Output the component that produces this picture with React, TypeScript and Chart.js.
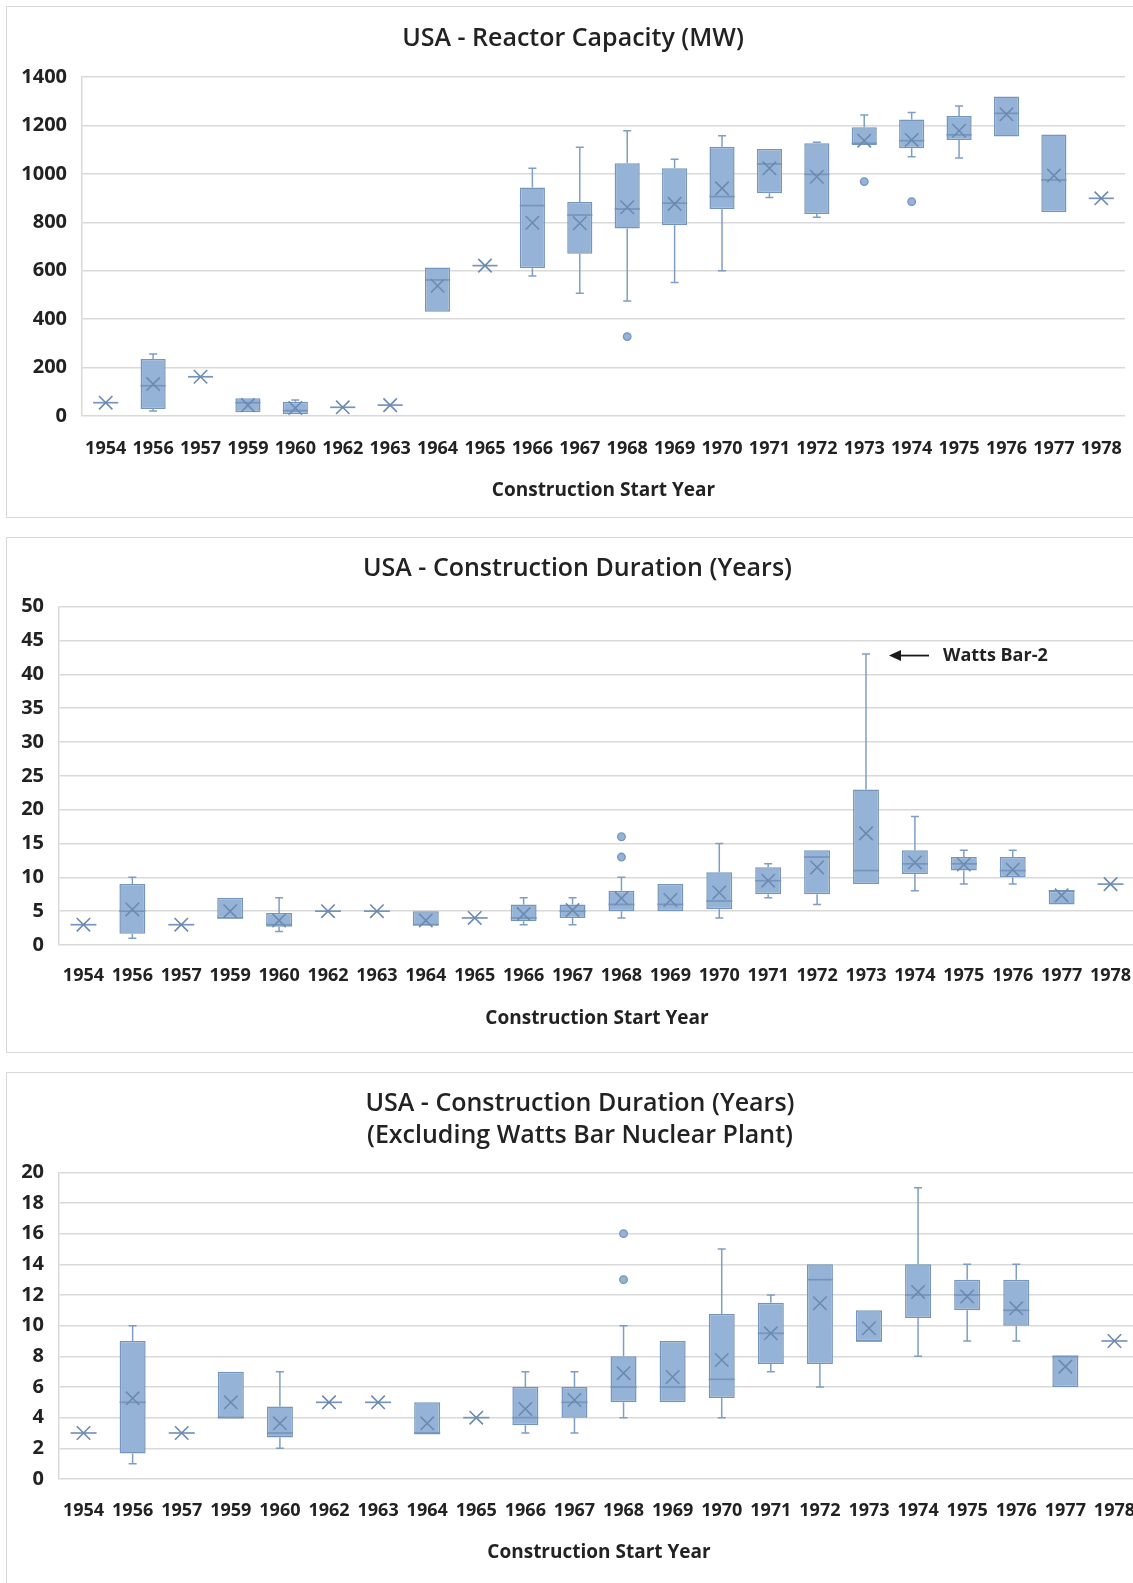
import React, { useEffect, useRef } from 'react';
import { Chart, registerables } from 'chart.js';

Chart.register(...registerables);

// ---------- DATA ----------
const years = ['1954', '1956', '1957', '1959', '1960', '1962', '1963', '1964', '1965', '1966', '1967', '1968', '1969', '1970', '1971', '1972', '1973', '1974', '1975', '1976', '1977', '1978'];

// Panel 1: Reactor capacity (MW)
const capMin = [55, 21, 162, 15, 7, 36, 45, 431, 621, 578, 507, 475, 551, 600, 902, 821, 1119, 1071, 1066, 1154, 841, 899];
const capQ1 = [55, 29, 162, 15, 7, 36, 45, 431, 621, 610, 670, 774, 788, 854, 920, 834, 1119, 1106, 1140, 1154, 841, 899];
const capMedian = [55, 125, 162, 55, 22, 36, 45, 562, 621, 869, 830, 855, 879, 906, 1041, 998, 1126, 1137, 1161, 1250, 975, 899];
const capQ3 = [55, 235, 162, 73, 59, 36, 45, 613, 621, 944, 884, 1044, 1023, 1112, 1103, 1126, 1192, 1225, 1239, 1319, 1163, 899];
const capMax = [55, 256, 162, 73, 66, 36, 45, 613, 621, 1023, 1110, 1178, 1060, 1157, 1103, 1131, 1243, 1253, 1280, 1319, 1163, 899];
const capMean = [55, 132, 162, 45, 33, 36, 45, 538, 621, 798, 796, 862, 876, 940, 1023, 988, 1137, 1140, 1178, 1246, 993, 899];
const capOutlierYears = ['1968', '1973', '1974'];
const capOutlierValues = [328, 968, 885];
const capTicks = [0, 200, 400, 600, 800, 1000, 1200, 1400];

// Panel 2: Construction duration (years)
const durMin = [3, 1, 3, 4, 2, 5, 5, 2.9, 4, 3, 3, 4, 5, 4, 7, 6, 9, 8, 9, 9, 6, 9];
const durQ1 = [3, 1.67, 3, 4, 2.7, 5, 5, 2.9, 4, 3.5, 4, 5, 5, 5.28, 7.5, 7.5, 9, 10.5, 11, 10, 6, 9];
const durMedian = [3, 5, 3, 4, 3, 5, 5, 3, 4, 4, 5, 6, 6, 6.5, 9.5, 13, 11, 12, 12, 11, 8, 9];
const durQ3 = [3, 9, 3, 7, 4.72, 5, 5, 5, 4, 6, 6, 8, 9, 10.76, 11.5, 14, 23, 14, 13, 13, 8, 9];
const durMax = [3, 10, 3, 7, 7, 5, 5, 5, 4, 7, 7, 10, 9, 15, 12, 14, 43, 19, 14, 14, 8, 9];
const durMean = [3, 5.26, 3, 5, 3.63, 5, 5, 3.63, 4, 4.57, 5.15, 6.9, 6.65, 7.76, 9.5, 11.46, 16.5, 12.2, 11.9, 11.13, 7.33, 9];
const durOutlierYears = ['1968', '1968'];
const durOutlierValues = [13, 16];
const durTicks = [0, 5, 10, 15, 20, 25, 30, 35, 40, 45, 50];

// Panel 3: Construction duration excluding Watts Bar
const exMin = [3, 1, 3, 4, 2, 5, 5, 2.9, 4, 3, 3, 4, 5, 4, 7, 6, 9, 8, 9, 9, 6, 9];
const exQ1 = [3, 1.67, 3, 4, 2.7, 5, 5, 2.9, 4, 3.5, 4, 5, 5, 5.28, 7.5, 7.5, 9, 10.5, 11, 10, 6, 9];
const exMedian = [3, 5, 3, 4, 3, 5, 5, 3, 4, 4, 5, 6, 6, 6.5, 9.5, 13, 9, 12, 12, 11, 8, 9];
const exQ3 = [3, 9, 3, 7, 4.72, 5, 5, 5, 4, 6, 6, 8, 9, 10.76, 11.5, 14, 11, 14, 13, 13, 8, 9];
const exMax = [3, 10, 3, 7, 7, 5, 5, 5, 4, 7, 7, 10, 9, 15, 12, 14, 11, 19, 14, 14, 8, 9];
const exMean = [3, 5.26, 3, 5, 3.63, 5, 5, 3.63, 4, 4.57, 5.15, 6.9, 6.65, 7.76, 9.5, 11.46, 9.83, 12.2, 11.9, 11.13, 7.33, 9];
const exOutlierYears = ['1968', '1968'];
const exOutlierValues = [13, 16];
const exTicks = [0, 2, 4, 6, 8, 10, 12, 14, 16, 18, 20];

const annotationText = 'Watts Bar-2';
const annotationYear = '1973';
const annotationValue = 43;

// ---------- STYLE ----------
const FONT = "'Open Sans', 'DejaVu Sans', sans-serif";
const BOX_FILL = '#95b3d7';
const BOX_BORDER = '#7695bc';
const WHISKER = '#7f9ec4';
const MEAN = '#6c8ab0';
const GRID = '#d9d9d9';
const TEXT = '#222222';

type Stats = {
  min: number[]; q1: number[]; median: number[]; q3: number[]; max: number[]; mean: number[];
  outYears: string[]; outValues: number[]; ticks: number[];
};

type Layout = {
  left: number; top: number; w: number; h: number;
  padLeft: number; padBottom: number; yWidth: number; xHeight: number;
  title: string | string[]; titleLH: number; titlePadTop: number; titlePadBottom: number;
  xTickOffset: number; xTitlePadBottom: number; annotate?: boolean;
};

function makeBoxPlugin(s: Stats) {
  return {
    id: 'boxExtras',
    beforeDatasetsDraw(chart: any) {
      const meta = chart.getDatasetMeta(0);
      const ys = chart.scales.y;
      const ctx = chart.ctx;
      ctx.save();
      ctx.strokeStyle = WHISKER;
      ctx.lineWidth = 1.5;
      meta.data.forEach((el: any, i: number) => {
        const x = el.x;
        const seg = (from: number, to: number) => {
          const y1 = ys.getPixelForValue(from);
          const y2 = ys.getPixelForValue(to);
          ctx.beginPath();
          ctx.moveTo(x, y1);
          ctx.lineTo(x, y2);
          ctx.moveTo(x - 4, y2);
          ctx.lineTo(x + 4, y2);
          ctx.stroke();
        };
        if (s.max[i] > s.q3[i]) seg(s.q3[i], s.max[i]);
        if (s.min[i] < s.q1[i]) seg(s.q1[i], s.min[i]);
      });
      ctx.restore();
    },
    afterDatasetDraw(chart: any, args: any) {
      if (args.index !== 0) return;
      const meta = chart.getDatasetMeta(0);
      const ys = chart.scales.y;
      const ctx = chart.ctx;
      ctx.save();
      ctx.strokeStyle = BOX_BORDER;
      ctx.lineWidth = 1.7;
      meta.data.forEach((el: any, i: number) => {
        const y = ys.getPixelForValue(s.median[i]);
        ctx.beginPath();
        ctx.moveTo(el.x - el.width / 2, y);
        ctx.lineTo(el.x + el.width / 2, y);
        ctx.stroke();
      });
      ctx.restore();
    },
  };
}

const annotationPlugin = {
  id: 'wattsBar',
  afterDraw(chart: any) {
    const xs = chart.scales.x;
    const ys = chart.scales.y;
    const ctx = chart.ctx;
    const x0 = xs.getPixelForValue(years.indexOf(annotationYear));
    const y = ys.getPixelForValue(annotationValue) + 1.5;
    const tip = x0 + 23;
    const tail = x0 + 63;
    ctx.save();
    ctx.strokeStyle = '#1a1a1a';
    ctx.fillStyle = '#1a1a1a';
    ctx.lineWidth = 1.8;
    ctx.beginPath();
    ctx.moveTo(tip + 10, y);
    ctx.lineTo(tail, y);
    ctx.stroke();
    ctx.beginPath();
    ctx.moveTo(tip, y);
    ctx.lineTo(tip + 12, y - 5.5);
    ctx.lineTo(tip + 12, y + 5.5);
    ctx.closePath();
    ctx.fill();
    ctx.fillStyle = TEXT;
    ctx.font = `bold 18px ${FONT}`;
    ctx.textAlign = 'left';
    ctx.textBaseline = 'middle';
    ctx.fillText(annotationText, x0 + 77, y);
    ctx.restore();
  },
};

function buildConfig(s: Stats, L: Layout): any {
  const plugins: any[] = [makeBoxPlugin(s)];
  if (L.annotate) plugins.push(annotationPlugin);
  return {
    type: 'bar',
    data: {
      labels: years,
      datasets: [
        {
          type: 'bar',
          data: years.map((_, i) => [s.q1[i], s.q3[i]]),
          backgroundColor: BOX_FILL,
          borderColor: BOX_BORDER,
          borderWidth: 1.5,
          borderSkipped: false,
          barPercentage: 0.53,
          categoryPercentage: 1,
          order: 3,
        },
        {
          type: 'line',
          data: s.outYears.map((yr, k) => ({ x: yr, y: s.outValues[k] })),
          showLine: false,
          pointStyle: 'circle',
          pointRadius: 3.8,
          pointBackgroundColor: BOX_FILL,
          pointBorderColor: BOX_BORDER,
          pointBorderWidth: 1.3,
          order: 2,
        },
        {
          type: 'line',
          data: s.mean,
          showLine: false,
          pointStyle: 'crossRot',
          pointRadius: 9.5,
          pointBorderColor: MEAN,
          pointBorderWidth: 1.6,
          order: 1,
        },
      ],
    },
    options: {
      responsive: false,
      animation: false,
      events: [],
      layout: { autoPadding: false, padding: { left: L.padLeft, right: 0, top: 0, bottom: L.padBottom } },
      plugins: {
        legend: { display: false },
        tooltip: { enabled: false },
        title: {
          display: true,
          text: L.title,
          color: TEXT,
          font: { family: FONT, size: 25, weight: '600', lineHeight: L.titleLH },
          padding: { top: L.titlePadTop, bottom: L.titlePadBottom },
        },
      },
      scales: {
        x: {
          type: 'category',
          offset: true,
          grid: { display: false, drawTicks: true, tickLength: L.xTickOffset + 25 },
          border: { display: false },
          ticks: {
            autoSkip: false,
            maxRotation: 0,
            minRotation: 0,
            padding: -25,
            color: TEXT,
            font: { family: FONT, size: 18, weight: 'bold' },
          },
          title: {
            display: true,
            text: 'Construction Start Year',
            color: TEXT,
            font: { family: FONT, size: 19, weight: 'bold', lineHeight: 1.2 },
            padding: { top: 0, bottom: L.xTitlePadBottom },
          },
          afterFit: (scale: any) => { scale.height = L.xHeight; },
        },
        y: {
          type: 'linear',
          min: s.ticks[0],
          max: s.ticks[s.ticks.length - 1],
          afterBuildTicks: (scale: any) => { scale.ticks = s.ticks.map((v) => ({ value: v })); },
          grid: { color: GRID, lineWidth: 1.5, drawTicks: false },
          border: { display: true, color: GRID, width: 1.5 },
          ticks: {
            padding: 15,
            color: TEXT,
            font: { family: FONT, size: 20, weight: 'bold' },
            callback: (v: any) => String(v),
          },
          afterFit: (scale: any) => { scale.width = L.yWidth; },
        },
      },
    },
    plugins,
  };
}

function BoxPanel({ stats, layout }: { stats: Stats; layout: Layout }) {
  const ref = useRef<HTMLCanvasElement>(null);
  useEffect(() => {
    const chart = new Chart(ref.current as HTMLCanvasElement, buildConfig(stats, layout));
    return () => chart.destroy();
  }, []);
  return (
    <canvas
      ref={ref}
      width={layout.w}
      height={layout.h}
      style={{ position: 'absolute', left: layout.left, top: layout.top, width: layout.w, height: layout.h }}
    />
  );
}

const stats1: Stats = { min: capMin, q1: capQ1, median: capMedian, q3: capQ3, max: capMax, mean: capMean, outYears: capOutlierYears, outValues: capOutlierValues, ticks: capTicks };
const stats2: Stats = { min: durMin, q1: durQ1, median: durMedian, q3: durQ3, max: durMax, mean: durMean, outYears: durOutlierYears, outValues: durOutlierValues, ticks: durTicks };
const stats3: Stats = { min: exMin, q1: exQ1, median: exMedian, q3: exQ3, max: exMax, mean: exMean, outYears: exOutlierYears, outValues: exOutlierValues, ticks: exTicks };

const layout1: Layout = {
  left: 6, top: 6, w: 1119, h: 510, padLeft: 15, padBottom: 5, yWidth: 61, xHeight: 95,
  title: 'USA - Reactor Capacity (MW)', titleLH: 1.2, titlePadTop: 17.5, titlePadBottom: 23.5,
  xTickOffset: 22, xTitlePadBottom: 8.6,
};
const layout2: Layout = {
  left: 6, top: 537, w: 1129, h: 514, padLeft: 14, padBottom: 5, yWidth: 39, xHeight: 101,
  title: 'USA - Construction Duration (Years)', titleLH: 1.2, titlePadTop: 16.5, titlePadBottom: 23.2,
  xTickOffset: 20, xTitlePadBottom: 15.8, annotate: true,
};
const layout3: Layout = {
  left: 6, top: 1072, w: 1133, h: 511, padLeft: 15, padBottom: 0, yWidth: 38, xHeight: 104,
  title: ['USA - Construction Duration (Years)', '(Excluding Watts Bar Nuclear Plant)'], titleLH: 1.3,
  titlePadTop: 15.25, titlePadBottom: 20.05, xTickOffset: 21, xTitlePadBottom: 18.6,
};

const borderStyle = (top: number, height: number): React.CSSProperties => ({
  position: 'absolute', left: 6, top, width: 1200, height, border: '1px solid #d9d9d9',
  boxSizing: 'border-box', pointerEvents: 'none',
});

export default function App() {
  return (
    <div style={{ position: 'absolute', left: 0, top: 0, width: 1133, height: 1583, overflow: 'hidden', background: '#ffffff' }}>
      <BoxPanel stats={stats1} layout={layout1} />
      <BoxPanel stats={stats2} layout={layout2} />
      <BoxPanel stats={stats3} layout={layout3} />
      <div style={borderStyle(6, 512)} />
      <div style={borderStyle(537, 516)} />
      <div style={borderStyle(1072, 600)} />
    </div>
  );
}
